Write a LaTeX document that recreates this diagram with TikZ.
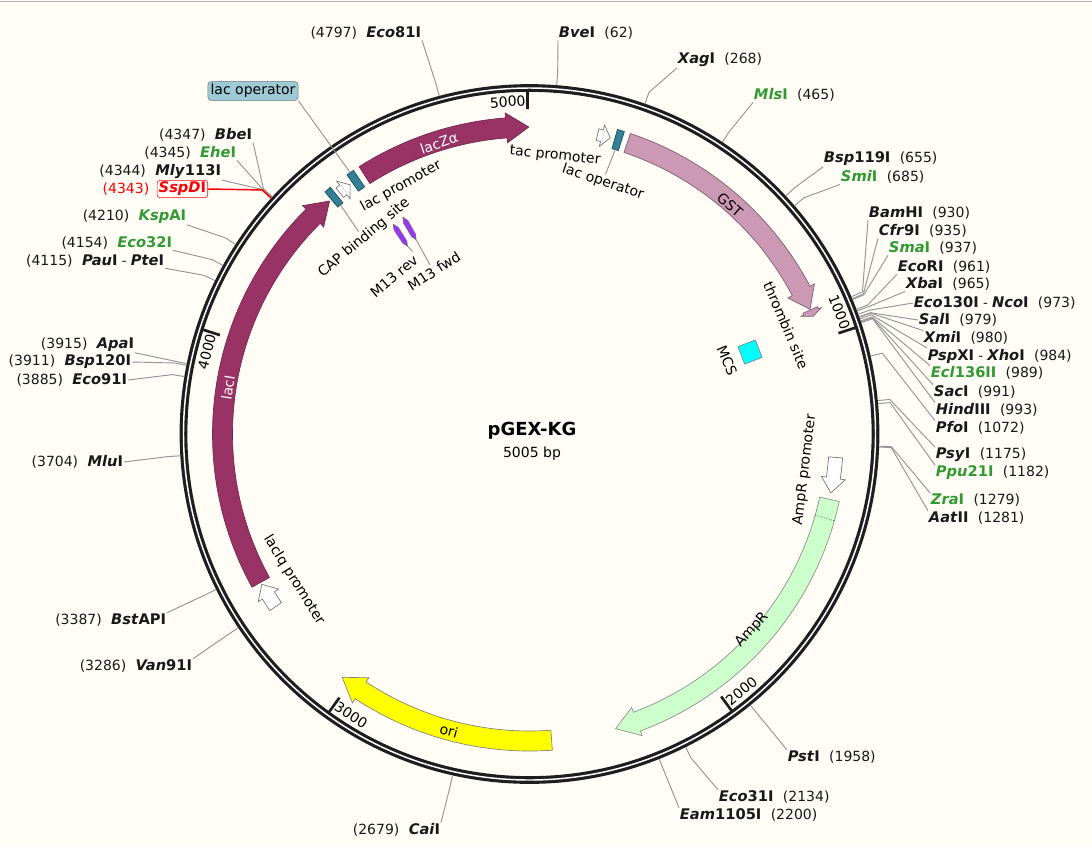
\documentclass[tikz,border=0pt]{standalone}
\usepackage{fontspec}
\setmainfont{DejaVu Sans}
\usetikzlibrary{positioning}
\definecolor{bgcream}{RGB}{255,253,246}
\definecolor{ringgray}{RGB}{30,30,30}
\definecolor{lacmaroon}{RGB}{153,51,102}
\definecolor{gstpink}{RGB}{204,153,180}
\definecolor{amprgreen}{RGB}{204,255,204}
\definecolor{oriyellow}{RGB}{255,255,0}
\definecolor{opteal}{RGB}{51,128,153}
\definecolor{m13violet}{RGB}{153,51,255}
\definecolor{mcscyan}{RGB}{0,255,255}
\definecolor{enzgreen}{RGB}{51,153,51}
\definecolor{opbox}{RGB}{158,202,214}
\newcommand{\enz}[2]{{\fontsize{11}{13}\selectfont\bfseries\itshape #1\/\upshape #2}}
\newcommand{\bp}[1]{{\fontsize{10.5}{12}\selectfont(#1)}}
\newcommand{\cutsite}[2]{\coordinate (#1) at ({pa(#2)}:350); \coordinate (#1k) at ({pa(#2)}:362);}
\newcommand{\featarrow}[6][]{%
  \pgfmathsetmacro{\fstart}{pa(#2)}%
  \pgfmathsetmacro{\fend}{pa(#3)}%
  \pgfmathsetmacro{\fhead}{\fend-#6}%
  \pgfmathsetmacro{\fro}{307+#4}%
  \pgfmathsetmacro{\fri}{307-#4}%
  \pgfmathsetmacro{\fhro}{307+#5}%
  \pgfmathsetmacro{\fhri}{307-#5}%
  \filldraw[#1] (\fstart:\fro) arc[start angle=\fstart,end angle=\fhead,radius=\fro] -- (\fhead:\fhro) -- (\fend:307) -- (\fhead:\fhri) -- (\fhead:\fri) arc[start angle=\fhead,end angle=\fstart,radius=\fri] -- cycle;}
\newcommand{\featbox}[4][]{%
  \pgfmathsetmacro{\fstart}{pa(#2)}%
  \pgfmathsetmacro{\fend}{pa(#3)}%
  \pgfmathsetmacro{\fro}{307+#4}%
  \pgfmathsetmacro{\fri}{307-#4}%
  \filldraw[#1] (\fstart:\fro) arc[start angle=\fstart,end angle=\fend,radius=\fro] -- (\fend:\fri) arc[start angle=\fend,end angle=\fstart,radius=\fri] -- cycle;}
\tikzset{
  siteline/.style={draw=black!42, line width=0.7pt},
  enzlabel/.style={inner sep=0.5pt, text=black!90},
  featlabel/.style={inner sep=1pt, font=\fontsize{10.5}{12}\selectfont},
  ticklabel/.style={inner sep=0pt, font=\fontsize{10.5}{12}\selectfont},
  lacfeat/.style={fill=lacmaroon, draw=lacmaroon!75!black, line width=0.5pt},
  gstfeat/.style={fill=gstpink, draw=gstpink!60!black, line width=0.5pt},
  amprfeat/.style={fill=amprgreen, draw=black!45, line width=0.5pt},
  orifeat/.style={fill=oriyellow, draw=black!50, line width=0.5pt},
  promfeat/.style={fill=white, draw=black!55, line width=0.5pt},
  opfeat/.style={fill=opteal, draw=opteal!60!black, line width=0.5pt},
  m13feat/.style={fill=m13violet, draw=black!55, line width=0.5pt}
}
\begin{document}
\begin{tikzpicture}[x=0.75pt,y=-0.75pt,declare function={pa(\p)=-90+\p*0.0719281;}]
\fill[bgcream] (0,0) rectangle (1092,847);
\useasboundingbox (0,0) rectangle (1092,847);
\draw[black!30, line width=0.8pt] (0,1.5) -- (1092,1.5);

\begin{scope}[shift={(529.5,434)}]
\draw[ringgray, line width=5.8pt] (0,0) circle[radius=346];
\draw[white, line width=1.1pt] (0,0) circle[radius=346];
\draw[ringgray, line width=2pt] ({pa(5000)}:343) -- ({pa(5000)}:325);
\draw[ringgray, line width=2pt] ({pa(1000)}:343) -- ({pa(1000)}:325);
\draw[ringgray, line width=2pt] ({pa(2000)}:343) -- ({pa(2000)}:325);
\draw[ringgray, line width=2pt] ({pa(3000)}:343) -- ({pa(3000)}:325);
\draw[ringgray, line width=2pt] ({pa(4000)}:343) -- ({pa(4000)}:325);
\node[ticklabel, rotate=3.8] (t5000) at ({pa(5000)-3.4}:333) {5000};
\node[ticklabel, rotate=-68.5] (t1000) at ({pa(1000)-3.4}:333) {1000};
\node[ticklabel, rotate=39.5] (t2000) at ({pa(2000)-3.4}:333) {2000};
\node[ticklabel, rotate=-32.4] (t3000) at ({pa(3000)-3.4}:333) {3000};
\node[ticklabel, rotate=75.7] (t4000) at ({pa(4000)-3.4}:333) {4000};

\featarrow[gstfeat]{258}{918}{10}{15}{3.8}
\featarrow[gstfeat]{920}{938}{8}{11}{0.9}
\featarrow[lacfeat]{4553}{5003}{10}{15}{4.2}
\featarrow[lacfeat]{3352}{4440}{10}{15}{4.2}
\featarrow[amprfeat]{1422}{2276}{10}{15}{4.2}
\featarrow[orifeat]{2445}{3025}{10}{15}{4.2}
\featarrow[promfeat]{178}{212}{6}{11}{1.6}
\featarrow[promfeat]{4474}{4508}{6}{11}{1.6}
\featarrow[promfeat]{1312}{1405}{7}{12}{2.8}
\featarrow[promfeat]{3278}{3346}{7}{12}{2.4}
\draw[black!60, densely dotted] ({pa(193)}:302) -- ({pa(193)}:312);
\draw[black!60, densely dotted] ({pa(4489)}:302) -- ({pa(4489)}:312);
\draw[black, densely dotted] ({pa(1472)}:297) -- ({pa(1472)}:317);
\featbox[opfeat]{224}{242}{10}
\featbox[opfeat]{4516}{4536}{10}
\featbox[opfeat]{4446}{4464}{10}
\filldraw[m13feat] ({pa(4538)}:229) -- ({pa(4538)}:245) -- ({pa(4546)}:250) -- ({pa(4554)}:245) -- ({pa(4554)}:229) -- ({pa(4546)}:224) -- cycle;
\filldraw[m13feat] ({pa(4576)}:230) -- ({pa(4576)}:246) -- ({pa(4584)}:251) -- ({pa(4592)}:246) -- ({pa(4592)}:230) -- ({pa(4584)}:225) -- cycle;
\coordinate (m13r) at ({pa(4546)}:224);
\coordinate (m13f) at ({pa(4584)}:225);
\coordinate (capin) at ({pa(4455)}:296);
\coordinate (opleft) at ({pa(4526)}:318);
\coordinate (opright) at ({pa(233)}:296);

\cutsite{bve}{62}
\cutsite{xag}{268}
\cutsite{mls}{465}
\cutsite{bspa}{655}
\cutsite{smi}{685}
\cutsite{bam}{930}
\cutsite{cfr}{935}
\cutsite{sma}{937}
\cutsite{ecori}{961}
\cutsite{xba}{965}
\cutsite{nco}{973}
\cutsite{sal}{979}
\cutsite{xmi}{980}
\cutsite{xho}{984}
\cutsite{ecl}{989}
\cutsite{sac}{991}
\cutsite{hind}{993}
\cutsite{pfo}{1072}
\cutsite{psy}{1175}
\cutsite{ppu}{1182}
\cutsite{zra}{1279}
\cutsite{aat}{1281}
\cutsite{pst}{1958}
\cutsite{ecoa}{2134}
\cutsite{eam}{2200}
\cutsite{cai}{2679}
\cutsite{van}{3286}
\cutsite{bstap}{3387}
\cutsite{mlu}{3704}
\cutsite{ecob}{3885}
\cutsite{bspb}{3911}
\cutsite{apa}{3915}
\cutsite{pau}{4115}
\cutsite{ecoc}{4154}
\cutsite{ksp}{4210}
\cutsite{sspd}{4343}
\cutsite{mly}{4344}
\cutsite{ehe}{4345}
\cutsite{bbe}{4347}
\cutsite{ecod}{4797}
\end{scope}

\node[enzlabel, anchor=west] (Lbve) at (558,33) {\enz{Bve}{I}\hspace{7pt}\bp{62}};
\node[enzlabel, anchor=west] (Lxag) at (677,60) {\enz{Xag}{I}\hspace{7pt}\bp{268}};
\node[enzlabel, anchor=west] (Lmls) at (753,95) {\textcolor{enzgreen}{\enz{Mls}{I}}\hspace{7pt}\bp{465}};
\node[enzlabel, anchor=west] (Lbspa) at (823,159) {\enz{Bsp}{119I}\hspace{7pt}\bp{655}};
\node[enzlabel, anchor=west] (Lsmi) at (840,177) {\textcolor{enzgreen}{\enz{Smi}{I}}\hspace{7pt}\bp{685}};
\node[enzlabel, anchor=west] (Lbam) at (868,213) {\enz{Bam}{HI}\hspace{7pt}\bp{930}};
\node[enzlabel, anchor=west] (Lcfr) at (878,231) {\enz{Cfr}{9I}\hspace{7pt}\bp{935}};
\node[enzlabel, anchor=west] (Lsma) at (888,248) {\textcolor{enzgreen}{\enz{Sma}{I}}\hspace{7pt}\bp{937}};
\node[enzlabel, anchor=west] (Lecori) at (897,267) {\enz{Eco}{RI}\hspace{7pt}\bp{961}};
\node[enzlabel, anchor=west] (Lxba) at (905,284) {\enz{Xba}{I}\hspace{7pt}\bp{965}};
\node[enzlabel, anchor=west] (Lnco) at (913,303) {\enz{Eco}{130I} - \enz{Nco}{I}\hspace{7pt}\bp{973}};
\node[enzlabel, anchor=west] (Lsal) at (918,320) {\enz{Sal}{I}\hspace{7pt}\bp{979}};
\node[enzlabel, anchor=west] (Lxmi) at (923,338) {\enz{Xmi}{I}\hspace{7pt}\bp{980}};
\node[enzlabel, anchor=west] (Lxho) at (927,356) {\enz{Psp}{XI} - \enz{Xho}{I}\hspace{7pt}\bp{984}};
\node[enzlabel, anchor=west] (Lecl) at (930,373) {\textcolor{enzgreen}{\enz{Ecl}{136II}}\hspace{7pt}\bp{989}};
\node[enzlabel, anchor=west] (Lsac) at (933,392) {\enz{Sac}{I}\hspace{7pt}\bp{991}};
\node[enzlabel, anchor=west] (Lhind) at (935,410) {\enz{Hind}{III}\hspace{7pt}\bp{993}};
\node[enzlabel, anchor=west] (Lpfo) at (935,428) {\enz{Pfo}{I}\hspace{7pt}\bp{1072}};
\node[enzlabel, anchor=west] (Lpsy) at (935,455) {\enz{Psy}{I}\hspace{7pt}\bp{1175}};
\node[enzlabel, anchor=west] (Lppu) at (935,473) {\textcolor{enzgreen}{\enz{Ppu}{21I}}\hspace{7pt}\bp{1182}};
\node[enzlabel, anchor=west] (Lzra) at (930,500) {\textcolor{enzgreen}{\enz{Zra}{I}}\hspace{7pt}\bp{1279}};
\node[enzlabel, anchor=west] (Laat) at (928,518) {\enz{Aat}{II}\hspace{7pt}\bp{1281}};
\node[enzlabel, anchor=west] (Lpst) at (787,757) {\enz{Pst}{I}\hspace{7pt}\bp{1958}};
\node[enzlabel, anchor=west] (Lecoa) at (718,797) {\enz{Eco}{31I}\hspace{7pt}\bp{2134}};
\node[enzlabel, anchor=west] (Leam) at (679,815) {\enz{Eam}{1105I}\hspace{7pt}\bp{2200}};
\node[enzlabel, anchor=east] (Lcai) at (441,830) {\bp{2679}\hspace{7pt}\enz{Cai}{I}};
\node[enzlabel, anchor=east] (Lvan) at (193,666) {\bp{3286}\hspace{7pt}\enz{Van}{91I}};
\node[enzlabel, anchor=east] (Lbstap) at (167,620) {\bp{3387}\hspace{7pt}\enz{Bst}{API}};
\node[enzlabel, anchor=east] (Lmlu) at (124,462) {\bp{3704}\hspace{7pt}\enz{Mlu}{I}};
\node[enzlabel, anchor=east] (Lecob) at (128,380) {\bp{3885}\hspace{7pt}\enz{Eco}{91I}};
\node[enzlabel, anchor=east] (Lbspb) at (132,362) {\bp{3911}\hspace{7pt}\enz{Bsp}{120I}};
\node[enzlabel, anchor=east] (Lapa) at (135,345) {\bp{3915}\hspace{7pt}\enz{Apa}{I}};
\node[enzlabel, anchor=east] (Lpau) at (165,261) {\bp{4115}\hspace{7pt}\enz{Pau}{I} - \enz{Pte}{I}};
\node[enzlabel, anchor=east] (Lecoc) at (173,243) {\bp{4154}\hspace{7pt}\textcolor{enzgreen}{\enz{Eco}{32I}}};
\node[enzlabel, anchor=east] (Lksp) at (187,217) {\bp{4210}\hspace{7pt}\textcolor{enzgreen}{\enz{Ksp}{AI}}};
\node[enzlabel, anchor=east, draw=red, fill=white, rounded corners=2pt, inner sep=1.2pt, text=red] (Lsspd) at (208,189) {\enz{SspD}{I}};
\node[enzlabel, text=red, left=5pt of Lsspd] (Nsspd) {\bp{4343}};
\node[enzlabel, anchor=east] (Lmly) at (222,172) {\bp{4344}\hspace{7pt}\enz{Mly}{113I}};
\node[enzlabel, anchor=east] (Lehe) at (237,153) {\bp{4345}\hspace{7pt}\textcolor{enzgreen}{\enz{Ehe}{I}}};
\node[enzlabel, anchor=east] (Lbbe) at (253,135) {\bp{4347}\hspace{7pt}\enz{Bbe}{I}};
\node[enzlabel, anchor=east] (Lecod) at (422,33) {\bp{4797}\hspace{7pt}\enz{Eco}{81I}};

\draw[siteline] (bve) -- (bvek) -- (Lbve.south west);
\draw[siteline] (xag) -- (xagk) -- (Lxag.south west);
\draw[siteline] (mls) -- (mlsk) -- (Lmls.south west);
\draw[siteline] (bspa) -- (bspak) -- (Lbspa.south west);
\draw[siteline] (smi) -- (smik) -- (Lsmi.south west);
\draw[siteline] (bam) -- (bamk) -- (Lbam.south west);
\draw[siteline] (cfr) -- (cfrk) -- (Lcfr.south west);
\draw[siteline] (sma) -- (smak) -- (Lsma.south west);
\draw[siteline] (ecori) -- (ecorik) -- (Lecori.south west);
\draw[siteline] (xba) -- (xbak) -- (Lxba.south west);
\draw[siteline] (nco) -- (ncok) -- (Lnco.west);
\draw[siteline] (sal) -- (salk) -- (Lsal.west);
\draw[siteline] (xmi) -- (xmik) -- (Lxmi.north west);
\draw[siteline] (xho) -- (xhok) -- (Lxho.north west);
\draw[siteline] (ecl) -- (eclk) -- (Lecl.north west);
\draw[siteline] (sac) -- (sack) -- (Lsac.north west);
\draw[siteline] (hind) -- (hindk) -- (Lhind.north west);
\draw[siteline] (pfo) -- (pfok) -- (Lpfo.north west);
\draw[siteline] (psy) -- (psyk) -- (Lpsy.north west);
\draw[siteline] (ppu) -- (ppuk) -- (Lppu.north west);
\draw[siteline] (zra) -- (zrak) -- (Lzra.north west);
\draw[siteline] (aat) -- (aatk) -- (Laat.north west);
\draw[siteline] (pst) -- (pstk) -- (Lpst.north west);
\draw[siteline] (ecoa) -- (ecoak) -- (Lecoa.north west);
\draw[siteline] (eam) -- (eamk) -- (Leam.north west);
\draw[siteline] (cai) -- (caik) -- (Lcai.north east);
\draw[siteline] (van) -- (vank) -- (Lvan.north east);
\draw[siteline] (bstap) -- (bstapk) -- (Lbstap.north east);
\draw[siteline] (mlu) -- (mluk) -- (Lmlu.east);
\draw[siteline] (ecob) -- (ecobk) -- (Lecob.east);
\draw[siteline] (bspb) -- (bspbk) -- (Lbspb.east);
\draw[siteline] (apa) -- (apak) -- (Lapa.south east);
\draw[siteline] (pau) -- (pauk) -- (Lpau.south east);
\draw[siteline] (ecoc) -- (ecock) -- (Lecoc.south east);
\draw[siteline] (ksp) -- (kspk) -- (Lksp.south east);
\draw[siteline] (mly) -- (mlyk) -- (Lmly.south east);
\draw[siteline] (ehe) -- (ehek) -- (Lehe.south east);
\draw[siteline] (bbe) -- (bbek) -- (Lbbe.south east);
\draw[siteline] (ecod) -- (ecodk) -- (Lecod.south east);
\draw[red, line width=1.1pt] (sspd) -- (sspdk) -- (Lsspd.east);

\node[featlabel, text=white, rotate=19] (llacz) at (439,143) {lacZα};
\node[featlabel, rotate=-41] (lgst) at (730,205) {GST};
\node[featlabel, text=white, rotate=81] (llaci) at (228,388) {lacI};
\node[featlabel, rotate=-15] (lori) at (449,731) {ori};
\node[featlabel, rotate=48] (lampr) at (752,630) {AmpR};
\node[featlabel, rotate=83] (lamprp) at (805,470) {AmpR promoter};
\node[featlabel, rotate=-58] (llaciq) at (294,580) {lacIq promoter};
\node[featlabel, rotate=-6] (ltac) at (555,156) {tac promoter};
\node[featlabel, rotate=-18] (lopr) at (603,182) {lac operator};
\node[featlabel, rotate=29] (llacp) at (401,186) {lac promoter};
\node[featlabel, rotate=40] (lcap) at (364,238) {CAP binding site};
\node[featlabel, rotate=40] (lm13r) at (394,276) {M13 rev};
\node[featlabel, rotate=33] (lm13f) at (434,271) {M13 fwd};
\node[featlabel, rotate=-67] (lthr) at (786,325) {thrombin site};
\node[featlabel, rotate=-67] (lmcs) at (727,361) {MCS};
\node[fill=mcscyan, draw=black!50, line width=0.5pt, minimum size=14pt, inner sep=0pt, rotate=21] (mcs) at (750,352) {};
\node[featlabel, fill=opbox, draw=opbox!60!black, rounded corners=2.5pt, inner sep=2pt] (lopl) at (253,91) {lac operator};
\draw[siteline] (lopl.south east) -- (opleft);
\draw[siteline] (capin) -- (lcap.north);
\draw[siteline] (opright) -- (lopr.north);
\draw[siteline] (m13r) -- (lm13r.north east);
\draw[siteline] (m13f) -- (lm13f.north);

\node[font=\bfseries\fontsize{13.5}{16}\selectfont, inner sep=0pt] (title) at (532,431) {pGEX-KG};
\node[font=\fontsize{10.5}{12}\selectfont, inner sep=0pt, below=5pt of title] (size) {5005 bp};
\end{tikzpicture}
\end{document}
